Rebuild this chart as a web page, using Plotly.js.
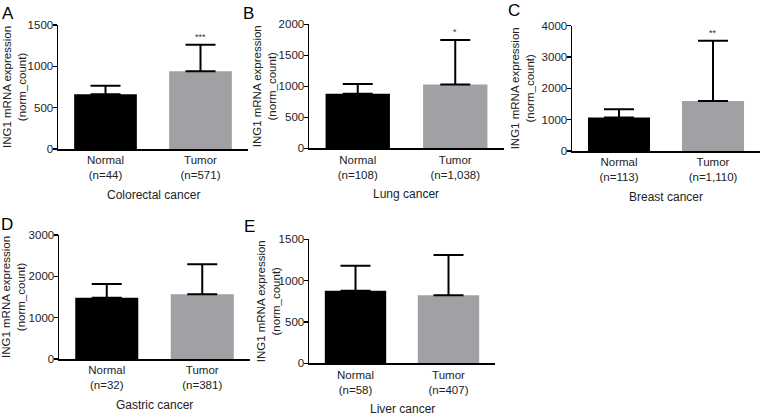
<!DOCTYPE html>
<html>
<head>
<meta charset="utf-8">
<script src="https://cdn.plot.ly/plotly-3.0.1.min.js"></script>
<style>
  html, body { margin: 0; padding: 0; background: #fff; }
  #chart { width: 761px; height: 416px; }
</style>
</head>
<body>
<div id="chart"></div>
<script>
// ---- data ----
const panelLetters = ['A', 'B', 'C', 'D', 'E'];
const cancerNames = ['Colorectal cancer', 'Lung cancer', 'Breast cancer', 'Gastric cancer', 'Liver cancer'];
const groupNames = ['Normal', 'Tumor'];
const normalN = ['44', '108', '113', '32', '58'];
const tumorN = ['571', '1,038', '1,110', '381', '407'];
const normalMean = [662, 881, 1070, 1483, 878];
const normalErr = [104, 156, 260, 332, 303];
const tumorMean = [940, 1030, 1600, 1565, 823];
const tumorErr = [322, 715, 1920, 726, 487];
const yMax = [1500, 2000, 4000, 3000, 1500];
const yStep = [500, 500, 1000, 1000, 500];
const significance = ['***', '*', '**', '', ''];
const yTitle = 'ING1 mRNA expression<br>(norm_count)';

// ---- layout geometry (pixels) ----
const W = 761, H = 416;
const boxes = [
  {x0: 58,  x1: 248, y0: 25,   y1: 149,   tx: 14,  letX: 0,   letY: 13},
  {x0: 309, x1: 504, y0: 24.3, y1: 148.3, tx: 264, letX: 241, letY: 13},
  {x0: 572, x1: 760, y0: 25.7, y1: 151,   tx: 522, letX: 506, letY: 10},
  {x0: 59,  x1: 250, y0: 235,  y1: 359,   tx: 13,  letX: -1,  letY: 224},
  {x0: 309, x1: 495, y0: 239.3, y1: 363.3, tx: 268, letX: 242, letY: 227}
];
const px = v => v / W;
const py = v => 1 - v / H;

const normalColor = '#000000';
const tumorColor = '#a1a1a5';
const textColor = '#222222';

const traces = [];
const layout = {
  width: W, height: H,
  margin: {l: 0, r: 0, t: 0, b: 0},
  paper_bgcolor: '#ffffff',
  plot_bgcolor: '#ffffff',
  showlegend: false,
  font: {family: 'Liberation Sans, Arial, sans-serif', size: 11, color: textColor},
  annotations: []
};

boxes.forEach((b, i) => {
  const sfx = i === 0 ? '' : String(i + 1);
  const xa = 'x' + sfx, ya = 'y' + sfx;
  const tickText = [
    groupNames[0] + '<br>(n=' + normalN[i] + ')',
    groupNames[1] + '<br>(n=' + tumorN[i] + ')'
  ];
  traces.push({
    type: 'bar',
    x: [0, 1],
    y: [normalMean[i], tumorMean[i]],
    width: 0.66,
    marker: {color: [normalColor, tumorColor], line: {width: 0}},
    error_y: {
      type: 'data', symmetric: false,
      array: [normalErr[i], tumorErr[i]],
      arrayminus: [0, 0],
      color: '#000000', thickness: 2, width: 15
    },
    xaxis: xa, yaxis: ya,
    hoverinfo: 'skip'
  });
  layout['xaxis' + sfx] = {
    domain: [px(b.x0), px(b.x1)],
    anchor: ya,
    range: [-0.5, 1.5],
    tickvals: [0, 1],
    ticktext: tickText,
    ticks: '',
    showline: true, linecolor: '#000', linewidth: 1.5,
    showgrid: false, zeroline: false,
    tickfont: {size: 11.5, color: textColor},
    fixedrange: true
  };
  layout['yaxis' + sfx] = {
    domain: [py(b.y1), py(b.y0)],
    anchor: xa,
    range: [0, yMax[i]],
    dtick: yStep[i], tick0: 0,
    ticks: 'outside', ticklen: 4, tickwidth: 1.5, tickcolor: '#000',
    ticklabelstandoff: -3,
    showline: true, linecolor: '#000', linewidth: 1.5,
    showgrid: false, zeroline: false,
    tickfont: {size: 11.5, color: textColor},
    fixedrange: true
  };
  // y title
  layout.annotations.push({
    xref: 'paper', yref: 'paper',
    x: px(b.tx), y: py((b.y0 + b.y1) / 2),
    xanchor: 'center', yanchor: 'middle',
    text: yTitle, textangle: -90, showarrow: false,
    font: {size: 11.5, color: textColor}
  });
  // x title
  layout.annotations.push({
    xref: 'paper', yref: 'paper',
    x: px((b.x0 + b.x1) / 2), y: py(b.y1 + 46),
    xanchor: 'center', yanchor: 'middle',
    text: cancerNames[i], showarrow: false,
    font: {size: 12, color: textColor}
  });
  // panel letter
  layout.annotations.push({
    xref: 'paper', yref: 'paper',
    x: px(b.letX), y: py(b.letY),
    xanchor: 'left', yanchor: 'middle',
    text: panelLetters[i], showarrow: false,
    font: {size: 17, color: '#000'}
  });
  // significance marks
  if (significance[i]) {
    layout.annotations.push({
      xref: xa, yref: ya,
      x: 1, y: tumorMean[i] + tumorErr[i],
      xanchor: 'center', yanchor: 'bottom', yshift: 1,
      text: significance[i], showarrow: false,
      font: {size: 9, color: '#333'}
    });
  }
});

Plotly.newPlot('chart', traces, layout, {displayModeBar: false, staticPlot: true});
</script>
</body>
</html>
